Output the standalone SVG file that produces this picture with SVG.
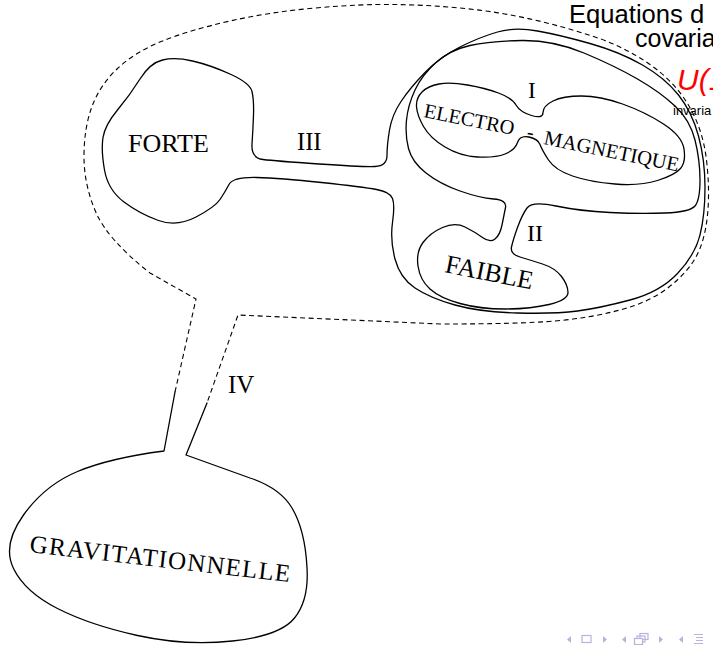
<svg xmlns="http://www.w3.org/2000/svg" width="713" height="645" viewBox="0 0 713 645">
<style>
.ln{fill:none;stroke:#000;stroke-width:1.3;stroke-linejoin:round;stroke-linecap:round}
.dash{fill:none;stroke:#000;stroke-width:1.1;stroke-dasharray:5 3.5}
.lbl{font-family:"Liberation Serif","Times New Roman",serif;fill:#000}
.hdr{font-family:"Liberation Sans",Arial,sans-serif;fill:#000}
.nav{fill:#b4b4dc;stroke:none}
.navs{fill:none;stroke:#b4b4dc;stroke-width:1.2}
</style>
<rect width="713" height="645" fill="#fff"/>

<g id="connectors">
  <path class="dash" d="M175,392 L196,299 L150,273 Q108,240 96,212.5 Q84,185 84,156.5 Q84,128 92,106.5 Q100,85 117.5,68.5 Q135,52 162.5,41 Q190,30 230,21 Q270,12 315,8 Q360,4 395,4.5 Q430,5 465,8.5 Q500,12 532.5,19.5 Q565,27 595,37 Q625,47 650,64.5 Q675,82 689,106 Q703,130 706.5,160 Q710,190 707.5,215 Q705,240 696.5,256 Q688,272 669,287 Q650,302 620,310 Q590,318 555,321 Q520,324 440,324 L238,315 L207,403"/>
</g>

<g id="forte-region">
  <path class="ln" d="M162.5,60 Q175,57 192.5,61 Q210,65 230,74 Q250,83 252,91.5 Q254,100 253.5,115 Q253,130 252,144 Q251,158 263,159.5 Q275,161 319,164 Q363,167 375,166.5 Q387,166 387,155.5 Q387,145 389.5,130 Q392,115 401,101.5 Q410,88 425,72.5 Q440,57 460,47 Q480,37 497.5,32 Q515,27 537.5,31 Q560,35 590,43.5 Q620,52 642.5,65 Q665,78 678.5,95 Q692,112 698.5,136 Q705,160 705,187.5 Q705,215 700,235 Q695,255 677.5,273.5 Q660,292 630,300 Q600,308 577.5,311 Q555,314 517.5,313 Q480,312 455,305 Q430,298 415,288 Q400,278 395,259 Q390,240 392.5,222.5 Q395,205 392.5,198.5 Q390,192 376.5,189.5 Q363,187 321.5,182.5 Q280,178 256.5,177.5 Q233,177 229,184.5 Q225,192 220,199.5 Q215,207 196,217 Q177,227 158.5,220.5 Q140,214 124,202 Q108,190 104.5,170 Q101,150 103,137.5 Q105,125 117.5,110 Q130,95 140,79 Q150,63 162.5,60 Z"/>
  <text class="lbl" x="128" y="152" font-size="26">FORTE</text>
  <text class="lbl" x="297" y="150" font-size="24.5">III</text>
</g>

<g id="faible-region">
  <path class="ln" d="M584,53 Q615,66 637.5,79 Q660,92 675,106 Q690,120 695,140 Q700,160 700,180 Q700,200 695,206 Q690,212 665,213 Q640,214 610,212.5 Q580,211 556,206 Q532,201 527,208 Q522,215 517.5,227.5 Q513,240 511.5,247 Q510,254 520,257 Q530,260 542.5,264 Q555,268 561.5,276.5 Q568,285 568,292.5 Q568,300 549,304.5 Q530,309 505,309 Q480,309 460,303.5 Q440,298 430,289 Q420,280 418,266 Q416,252 423,242.5 Q430,233 442.5,227.5 Q455,222 465,227 Q475,232 482.5,237.5 Q490,243 495,239 Q500,235 502,225 Q504,215 505.5,207.5 Q507,200 493.5,199 Q480,198 460,191 Q440,184 426,173 Q412,162 408.5,148.5 Q405,135 406.5,120 Q408,105 415,90 Q422,75 436,62.5 Q450,50 470,45.5 Q490,41 521.5,40.5 Q553,40 584,53 Z"/>
  <text class="lbl" x="444" y="272" font-size="26" transform="rotate(11.3 444 272)">FAIBLE</text>
  <text class="lbl" x="527" y="241" font-size="24">II</text>
</g>

<g id="electromagnetique">
  <path class="ln" d="M422,92 Q428,86 439,84 Q450,82 467.5,85 Q485,88 498.5,93 Q512,98 516,105 Q520,112 531.5,115.5 Q543,119 543,112.5 Q543,106 553,101 Q563,96 581.5,96 Q600,96 622.5,104 Q645,112 663.5,124 Q682,136 684,149 Q686,162 680.5,168.5 Q675,175 657.5,180.5 Q640,186 615,184 Q590,182 572.5,176 Q555,170 548.5,160 Q542,150 540,144.5 Q538,139 529,137 Q520,135 517.5,142.5 Q515,150 505,154 Q495,158 477.5,157 Q460,156 445,147 Q430,138 423.5,126.5 Q417,115 416.5,106.5 Q416,98 422,92 Z"/>
  <text class="lbl" x="423" y="117" font-size="20.4" transform="rotate(11.3 423 117)">ELECTRO</text>
  <text class="lbl" x="526" y="138" font-size="20.4" transform="rotate(11.4 526 138)">-</text>
  <text class="lbl" x="543" y="144" font-size="20.6" transform="rotate(11.6 543 144)">MAGNETIQUE</text>
  <text class="lbl" x="528" y="98" font-size="23">I</text>
</g>

<g id="gravitationnelle">
  <path class="ln" d="M175,392 L164,451 Q110,458 77.5,471.5 Q45,485 23.5,515 Q2,545 13.5,568.5 Q25,592 57.5,608.5 Q90,625 137.5,635.5 Q185,646 232.5,641 Q280,636 294.5,618 Q309,600 307,567.5 Q305,530 292,508 Q280,488 250,478 L186,455 L207,403"/>
  <text class="lbl" x="29" y="552" font-size="25" textLength="262" lengthAdjust="spacing" transform="rotate(6.6 29 552)">GRAVITATIONNELLE</text>
  <text class="lbl" x="228" y="393" font-size="25">IV</text>
</g>

<g id="header">
  <text class="hdr" x="569" y="23" font-size="25.6">Equations d</text>
  <text class="hdr" x="635" y="47" font-size="25">covaria</text>
  <text class="hdr" x="677" y="90" font-size="30" font-style="italic" fill="#ff0000" style="fill:#ff0000">U(1</text>
  <text class="hdr" x="673" y="115" font-size="13">invaria</text>
</g>

<g id="navigation">
  <polygon class="nav" points="571,636 567,639.5 571,643"/>
  <rect class="navs" x="582" y="635.5" width="9" height="7"/>
  <polygon class="nav" points="603,636 607,639.5 603,643"/>
  <polygon class="nav" points="626,636 622,639.5 626,643"/>
  <rect class="navs" x="640" y="633.5" width="8" height="6"/>
  <rect class="navs" x="637" y="636" width="8" height="6"/>
  <rect class="navs" x="634.5" y="638.5" width="8" height="6" fill="#fff" style="fill:#fff"/>
  <polygon class="nav" points="659,636 663,639.5 659,643"/>
  <polygon class="nav" points="683,636 679,639.5 683,643"/>
  <path class="navs" d="M694,634.5 H703 M696,637.5 H703 M696,640.5 H703 M694,643.5 H703"/>
</g>
</svg>
